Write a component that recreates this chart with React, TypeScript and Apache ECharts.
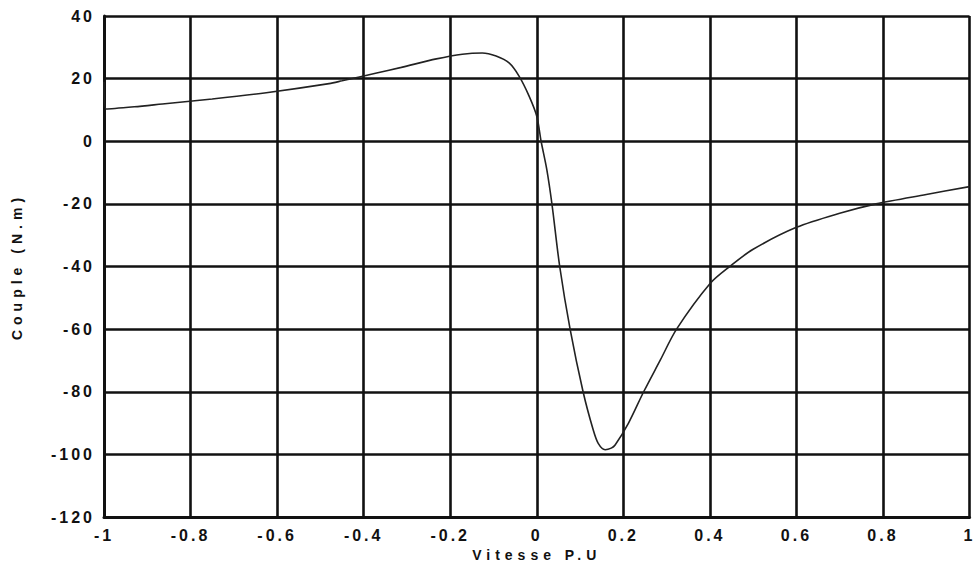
import React, { useEffect, useRef } from "react";
import * as echarts from "echarts";

// Speed (p.u.) and torque (N.m)
const vitesse = [
  -1, -0.995, -0.93, -0.865, -0.75, -0.625, -0.48, -0.45, -0.37, -0.313, -0.232, -0.172, -0.126,
  -0.094, -0.064, -0.041, -0.018, 0.0, 0.01, 0.023, 0.035, 0.053, 0.077, 0.107, 0.13, 0.142,
  0.158, 0.172, 0.181, 0.212, 0.247, 0.285, 0.323, 0.4, 0.446, 0.5, 0.6, 0.7, 0.784, 0.9, 1.0,
];
const couple = [
  19, 10.3, 11, 11.9, 13.5, 15.5, 18.4, 19.3, 21.8, 23.6, 26.3, 27.8, 28.2,
  27.2, 25, 20.8, 14.5, 8, 0, -8.9, -20, -40, -60, -80, -92, -96.5,
  -98.5, -98, -97, -90, -80, -70, -60, -45.5, -40, -34.5, -27.5, -23, -20, -17, -14.5,
];

const xName = "Vitesse P.U";
const yName = "Couple (N.m)";

export default function App() {
  const ref = useRef<HTMLDivElement>(null);
  useEffect(() => {
    if (!ref.current) return;
    const chart = echarts.init(ref.current, undefined, { renderer: "svg" });
    const data = vitesse.map((v, i) => [v, couple[i]]);
    const black = "#111";
    chart.setOption({
      animation: false,
      backgroundColor: "#ffffff",
      grid: { left: 104, right: 4, top: 16, bottom: 53 },
      xAxis: {
        type: "value",
        min: -1,
        max: 1,
        interval: 0.2,
        name: xName,
        nameLocation: "middle",
        nameGap: 30,
        nameTextStyle: { color: black, fontFamily: "Liberation Sans", fontWeight: "bold", fontSize: 14 },
        axisLine: { show: true, onZero: false, lineStyle: { color: black, width: 3 } },
        axisTick: { show: false },
        splitLine: { show: true, lineStyle: { color: black, width: 2.6 } },
        axisLabel: {
          color: black,
          fontFamily: "Liberation Sans",
          fontWeight: "bold",
          fontSize: 16,
          margin: 10,
          formatter: (v: number) => String(Math.round(v * 10) / 10),
        },
      },
      yAxis: {
        type: "value",
        min: -120,
        max: 40,
        interval: 20,
        name: yName,
        nameLocation: "middle",
        nameGap: 80,
        nameTextStyle: { color: black, fontFamily: "Liberation Sans", fontWeight: "bold", fontSize: 14 },
        axisLine: { show: true, onZero: false, lineStyle: { color: black, width: 3 } },
        axisTick: { show: false },
        splitLine: { show: true, lineStyle: { color: black, width: 2.6 } },
        axisLabel: {
          color: black,
          fontFamily: "Liberation Sans",
          fontWeight: "bold",
          fontSize: 16,
          margin: 9,
        },
      },
      series: [
        {
          type: "line",
          data,
          smooth: 0.3,
          symbol: "none",
          lineStyle: { color: "#222", width: 1.6 },
        },
      ],
    });
    return () => chart.dispose();
  }, []);
  return (
    <div>
      <style>{`
        .chartbox text { letter-spacing: 3px; }
        .chartbox text[style*="14px"] { letter-spacing: 5px; }
      `}</style>
      <div
        className="chartbox"
        ref={ref}
        style={{ position: "fixed", left: 0, top: 0, width: 977, height: 570, background: "#fff" }}
      />
    </div>
  );
}
